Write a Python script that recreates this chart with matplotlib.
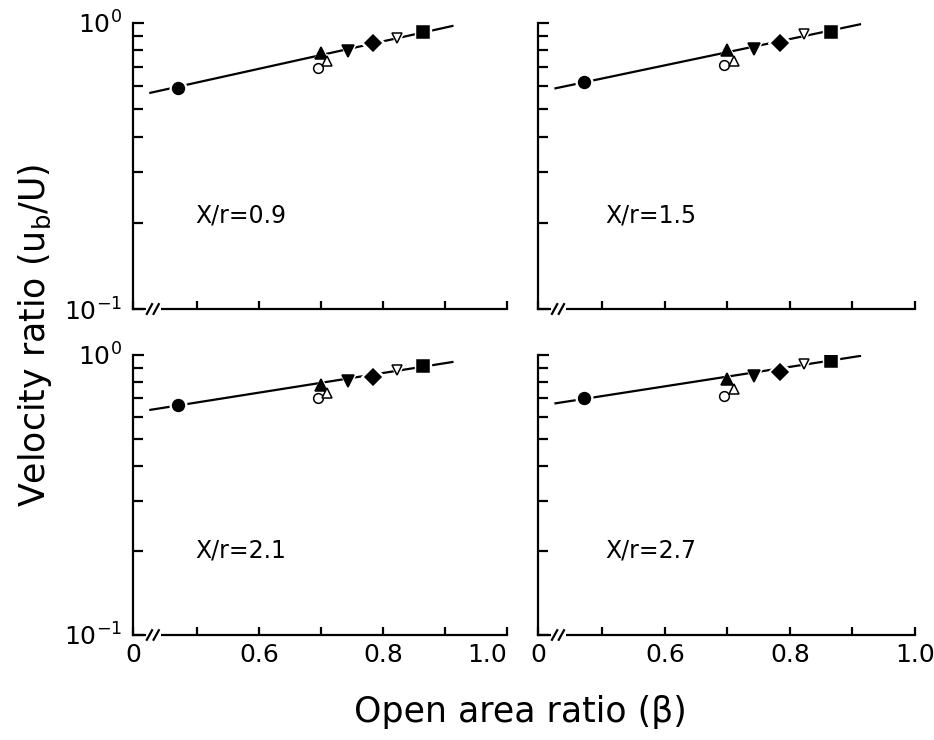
import matplotlib
matplotlib.use("Agg")
import matplotlib.pyplot as plt
import numpy as np

plt.rcParams['font.family'] = ['DejaVu Sans']
plt.rcParams['mathtext.fontset'] = 'custom'
plt.rcParams['mathtext.rm'] = 'DejaVu Sans'
plt.rcParams['mathtext.it'] = 'DejaVu Sans'

# ---------------- data ----------------
panel_labels = ["X/r=0.9", "X/r=1.5", "X/r=2.1", "X/r=2.7"]

# open area ratio (beta) of each grid, same in every panel
beta = [0.47, 0.70, 0.695, 0.71, 0.743, 0.784, 0.822, 0.865]

# velocity ratio ub/U for each grid, one list per panel
ratio_09 = [0.590, 0.785, 0.693, 0.735, 0.798, 0.847, 0.882, 0.926]
ratio_15 = [0.619, 0.803, 0.711, 0.735, 0.809, 0.847, 0.913, 0.930]
ratio_21 = [0.663, 0.780, 0.700, 0.730, 0.807, 0.834, 0.884, 0.914]
ratio_27 = [0.700, 0.819, 0.714, 0.754, 0.841, 0.872, 0.927, 0.952]

# fitted line end points per panel
fit_beta = [0.425, 0.912]
fit_09 = [0.569, 0.974]
fit_15 = [0.590, 0.987]
fit_21 = [0.637, 0.944]
fit_27 = [0.672, 0.992]

# marker style of each grid: (marker, filled, size)
markers = [("o", True, 8.5), ("^", True, 8.5), ("o", False, 7), ("^", False, 7),
           ("v", True, 8.5), ("D", True, 8.5), ("v", False, 7), ("s", True, 8)]

xtick_vals = [0.397, 0.5, 0.6, 0.7, 0.8, 0.9, 1.0]
xtick_labels = ["0", "", "0.6", "", "0.8", "", "1.0"]
ytick_vals = [0.1, 1.0]
ytick_labels = [r"$10^{-1}$", r"$10^{0}$"]

all_ratios = [ratio_09, ratio_15, ratio_21, ratio_27]
all_fits = [fit_09, fit_15, fit_21, fit_27]

# ---------------- figure ----------------
W, H = 934, 740
fig = plt.figure(figsize=(W / 100, H / 100), dpi=100)

rects = [
    (133 / W, 1 - 309 / H, 374 / W, 286.3 / H),
    (538 / W, 1 - 309 / H, 377 / W, 286.3 / H),
    (133 / W, 1 - 635 / H, 374 / W, 280 / H),
    (538 / W, 1 - 635 / H, 377 / W, 280 / H),
]

for i, rect in enumerate(rects):
    ax = fig.add_axes(rect)
    ax.set_yscale("log")
    ax.set_xlim(xtick_vals[0], 1.0)
    ax.set_ylim(0.1, 1.0)
    for s in ["top", "right"]:
        ax.spines[s].set_visible(False)
    for s in ["left", "bottom"]:
        ax.spines[s].set_linewidth(1.6)

    ax.plot(fit_beta, all_fits[i], color="black", lw=1.6, zorder=2)

    for (m, filled, ms), bx, ry in zip(markers, beta, all_ratios[i]):
        ax.plot([bx], [ry], marker=m, ms=ms + 3.5, color="white", mec="white",
                ls="none", zorder=3)
        ax.plot([bx], [ry], marker=m, ms=ms, mfc="black" if filled else "white",
                mec="black", mew=1.1, ls="none", zorder=4)

    ax.set_xticks(xtick_vals)
    ax.set_yticks(ytick_vals)
    if i >= 2:
        ax.set_xticklabels(xtick_labels, fontsize=18)
        if i == 2:
            ax.get_xticklabels()[-1].set_horizontalalignment("right")
    else:
        ax.set_xticklabels([])
    if i % 2 == 0:
        ax.set_yticklabels(ytick_labels, fontsize=18)
    else:
        ax.set_yticklabels([])
    ax.yaxis.set_minor_formatter(plt.NullFormatter())
    ax.tick_params(axis="both", which="major", direction="in", length=8, width=1.6, pad=8)
    ax.tick_params(axis="y", which="minor", direction="in", length=7, width=1.6)
    ax.tick_params(axis="x", which="major", length=6, pad=6)

    # axis break marks
    ax.add_patch(plt.Rectangle((0.035, -0.01), 0.04, 0.02, transform=ax.transAxes,
                               facecolor="white", edgecolor="none", clip_on=False, zorder=5))
    for bxp in (0.044, 0.062):
        ax.plot([bxp - 0.007, bxp + 0.007], [-0.017, 0.017], transform=ax.transAxes,
                color="black", lw=1.6, clip_on=False, zorder=6)

    ty = 0.328 if i < 2 else 0.30
    tx = 0.166 if i % 2 == 0 else 0.178
    ax.text(tx, ty, panel_labels[i], transform=ax.transAxes, fontsize=17,
            va="center", ha="left")

fig.text(35 / W, 1 - 335 / H, r"Velocity ratio (u$_{\mathrm{b}}$/U)", rotation=90,
         fontsize=25, ha="center", va="center")
fig.text(520 / W, 1 - 712 / H, "Open area ratio (β)", fontsize=25,
         ha="center", va="center")

fig.savefig("out.png", dpi=100)
